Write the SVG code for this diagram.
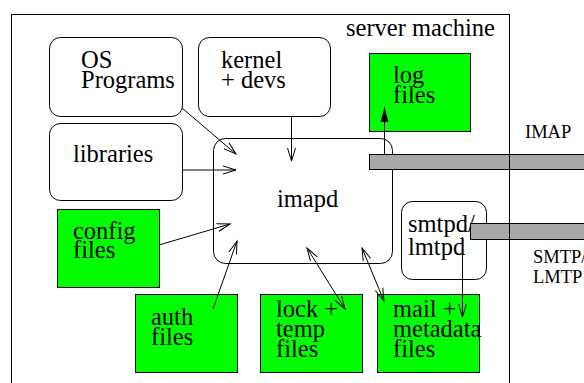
<svg xmlns="http://www.w3.org/2000/svg" width="584" height="383" viewBox="0 0 584 383">
<style>
text{font-family:"Liberation Serif","Times New Roman",serif;font-size:24.5px;fill:#000}
.small{font-size:18.5px}
.rbox{fill:#fff;stroke:#000;stroke-width:1}
.gbox{fill:#00ff00;stroke:#000;stroke-width:1}
.bar{fill:#a8a8a8;stroke:#000;stroke-width:1}
.conn{fill:none;stroke:#000;stroke-width:1}
</style>
<defs>
<marker id="open" markerUnits="userSpaceOnUse" markerWidth="16" markerHeight="12" refX="13" refY="5" orient="auto-start-reverse" viewBox="0 0 16 10">
<path d="M0,1 L13,5 L0,9" fill="none" stroke="#000" stroke-width="1"/>
</marker>
<marker id="filled" markerUnits="userSpaceOnUse" markerWidth="16" markerHeight="10" refX="15" refY="4" orient="auto" viewBox="0 0 16 8">
<path d="M0,0 L15,4 L0,8 Z" fill="#000"/>
</marker>
</defs>
<rect x="0" y="0" width="584" height="383" fill="#fff"/>
<text id="server-label" x="346" y="36">server machine</text>
<g id="os-programs"><rect class="rbox" x="49.5" y="37.5" width="133" height="79" rx="11"/><text x="81" y="68">OS</text><text x="81" y="88">Programs</text></g>
<g id="kernel"><rect class="rbox" x="198.5" y="37.5" width="132" height="79" rx="11"/><text x="221" y="68">kernel</text><text x="221" y="88">+ devs</text></g>
<g id="libraries"><rect class="rbox" x="49.5" y="123.5" width="133" height="77" rx="11"/><text x="73" y="162">libraries</text></g>
<g id="imapd"><rect class="rbox" x="213.5" y="138.5" width="179" height="125" rx="12"/><text x="277" y="207">imapd</text></g>
<g id="log-files"><rect class="gbox" x="369.5" y="53.5" width="101" height="78"/><text x="393" y="83">log</text><text x="393" y="103">files</text></g>
<g id="config-files"><rect class="gbox" x="57.5" y="209.5" width="102" height="78"/><text x="73" y="239">config</text><text x="73" y="258">files</text></g>
<g id="auth-files"><rect class="gbox" x="135.5" y="294.5" width="102" height="78"/><text x="151" y="325">auth</text><text x="151" y="345">files</text></g>
<g id="lock-files"><rect class="gbox" x="260.5" y="294.5" width="102" height="78"/><text x="276" y="317">lock +</text><text x="276" y="337">temp</text><text x="276" y="357">files</text></g>
<g id="mail-files"><rect class="gbox" x="377.5" y="294.5" width="102" height="78"/><text x="393" y="317">mail +</text><text x="393" y="337">metadata</text><text x="393" y="357">files</text></g>
<g id="smtpd"><rect class="rbox" x="401.5" y="201.5" width="85" height="78" rx="11"/><text x="408" y="232">smtpd/</text><text x="408" y="255">lmtpd</text></g>
<g id="imap-bar"><rect class="bar" x="369.5" y="154.5" width="220" height="15"/><text class="small" x="525" y="138">IMAP</text></g>
<g id="smtp-bar"><rect class="bar" x="470.5" y="223.5" width="120" height="16"/><text class="small" x="533" y="263">SMTP/</text><text class="small" x="533" y="283">LMTP</text></g>
<rect id="server-machine" x="11.5" y="14.5" width="498" height="380" fill="none" stroke="#000" stroke-width="1"/>
<g id="connectors">
<line class="conn" x1="182" y1="108" x2="236" y2="154" marker-end="url(#open)"/>
<line class="conn" x1="182" y1="170" x2="236" y2="170" marker-end="url(#open)"/>
<line class="conn" x1="291.5" y1="116" x2="291.5" y2="161" marker-end="url(#open)"/>
<line class="conn" x1="159" y1="245" x2="230" y2="224" marker-end="url(#open)"/>
<line class="conn" x1="213" y1="309" x2="237" y2="241" marker-end="url(#open)"/>
<line class="conn" x1="307" y1="248" x2="345" y2="309" marker-start="url(#open)" marker-end="url(#open)"/>
<line class="conn" x1="362" y1="248" x2="384" y2="301" marker-start="url(#open)" marker-end="url(#open)"/>
<line class="conn" x1="384.5" y1="154" x2="384.5" y2="107" marker-end="url(#filled)"/>
<line class="conn" x1="462.5" y1="237" x2="462.5" y2="317" marker-end="url(#open)"/>
</g>
</svg>
